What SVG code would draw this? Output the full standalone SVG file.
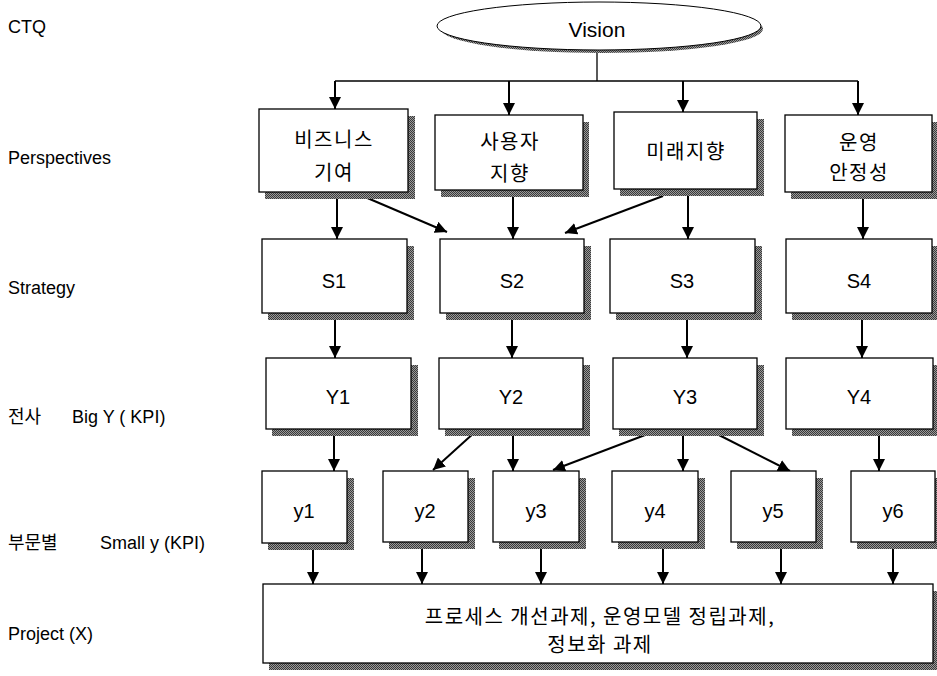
<svg xmlns="http://www.w3.org/2000/svg" width="937" height="676" viewBox="0 0 937 676">
  <defs>
    <pattern id="stipple" width="2" height="2" patternUnits="userSpaceOnUse">
      <rect width="2" height="2" fill="#9a9a9a"/>
      <rect width="1" height="1" fill="#3a3a3a"/>
      <rect x="1" y="1" width="1" height="1" fill="#3a3a3a"/>
    </pattern>
    <marker id="arrow" viewBox="0 0 10 10" refX="10" refY="5" markerWidth="12" markerHeight="12" markerUnits="userSpaceOnUse" orient="auto">
      <path d="M0,0 L10,5 L0,10 z" fill="#000"/>
    </marker>
  </defs>
  <style>
    .box { fill: #fff; stroke: #000; stroke-width: 1.3; }
    .shadow { fill: url(#stipple); }
    .lbl { font-family: "Liberation Sans", Arial, "Noto Sans CJK KR", sans-serif; font-size: 20px; fill: #000; text-anchor: middle; }
    .ko { font-family: "Noto Sans CJK KR", "Liberation Sans", sans-serif; font-size: 20px; letter-spacing: 1.5px; fill: #000; text-anchor: middle; }
    .side { font-family: "Liberation Sans", Arial, "Noto Sans CJK KR", sans-serif; font-size: 18px; fill: #000; }
    .side-ko { font-family: "Noto Sans CJK KR", "Liberation Sans", sans-serif; font-size: 18px; fill: #000; }
    .conn line { stroke: #000; stroke-width: 2; fill: none; }
    .arr { marker-end: url(#arrow); }
  </style>

  <!-- row labels -->
  <g id="row-labels">
    <text class="side" x="8" y="33">CTQ</text>
    <text class="side" x="8" y="164">Perspectives</text>
    <text class="side" x="8" y="294">Strategy</text>
    <text class="side-ko" x="8" y="423">전사</text>
    <text class="side" x="72" y="423">Big Y ( KPI)</text>
    <text class="side-ko" x="8" y="549">부문별</text>
    <text class="side" x="100" y="549">Small y (KPI)</text>
    <text class="side" x="8" y="640">Project (X)</text>
  </g>

  <!-- connectors -->
  <g id="connectors" class="conn">
    <line x1="597" y1="52" x2="597" y2="81" style="stroke-width:1.3"/>
    <line x1="335" y1="81" x2="858" y2="81" style="stroke-width:1.5"/>
    <line class="arr" x1="335" y1="81" x2="335" y2="109"/>
    <line class="arr" x1="509" y1="81" x2="509" y2="115"/>
    <line class="arr" x1="683" y1="81" x2="683" y2="112"/>
    <line class="arr" x1="858" y1="81" x2="858" y2="115"/>

    <line class="arr" x1="337" y1="198" x2="337" y2="239"/>
    <line class="arr" x1="365" y1="197" x2="447" y2="232"/>
    <line class="arr" x1="513" y1="197" x2="513" y2="239"/>
    <line class="arr" x1="663" y1="196" x2="565" y2="233"/>
    <line class="arr" x1="688" y1="196" x2="688" y2="239"/>
    <line class="arr" x1="863" y1="198" x2="863" y2="239"/>

    <line class="arr" x1="335" y1="319" x2="335" y2="358"/>
    <line class="arr" x1="512" y1="319" x2="512" y2="358"/>
    <line class="arr" x1="687" y1="319" x2="687" y2="358"/>
    <line class="arr" x1="862" y1="319" x2="862" y2="358"/>

    <line class="arr" x1="334" y1="435" x2="334" y2="471"/>
    <line class="arr" x1="475" y1="432" x2="433" y2="470"/>
    <line class="arr" x1="513" y1="435" x2="513" y2="471"/>
    <line class="arr" x1="653" y1="432" x2="553" y2="470"/>
    <line class="arr" x1="683" y1="435" x2="683" y2="471"/>
    <line class="arr" x1="713" y1="432" x2="790" y2="471"/>
    <line class="arr" x1="879" y1="435" x2="879" y2="471"/>

    <line class="arr" x1="313" y1="549" x2="313" y2="584"/>
    <line class="arr" x1="422" y1="549" x2="422" y2="584"/>
    <line class="arr" x1="541" y1="549" x2="541" y2="584"/>
    <line class="arr" x1="663" y1="549" x2="663" y2="584"/>
    <line class="arr" x1="781" y1="549" x2="781" y2="584"/>
    <line class="arr" x1="893" y1="549" x2="893" y2="584"/>
  </g>

  <!-- CTQ -->
  <g id="vision">
    <ellipse cx="602" cy="29" rx="161" ry="24" class="shadow"/>
    <ellipse cx="599" cy="26" rx="162" ry="24" fill="#fff" stroke="#000" stroke-width="1"/>
    <text class="lbl" x="597" y="37" style="font-size:21px">Vision</text>
  </g>

  <!-- perspectives -->
  <g id="p-business">
    <rect class="shadow" x="265" y="116" width="150" height="83"/>
    <rect class="box" x="259" y="109" width="149" height="83"/>
    <text class="ko" x="334" y="147">비즈니스</text>
    <text class="ko" x="334" y="180">기여</text>
  </g>
  <g id="p-user">
    <rect class="shadow" x="441" y="122" width="148" height="75"/>
    <rect class="box" x="435" y="115" width="148" height="75"/>
    <text class="ko" x="510" y="149">사용자</text>
    <text class="ko" x="510" y="181">지향</text>
  </g>
  <g id="p-future">
    <rect class="shadow" x="620" y="119" width="144" height="77"/>
    <rect class="box" x="614" y="112" width="143" height="77"/>
    <text class="ko" x="686" y="159">미래지향</text>
  </g>
  <g id="p-ops">
    <rect class="shadow" x="791" y="122" width="148" height="77"/>
    <rect class="box" x="785" y="115" width="147" height="77"/>
    <text class="ko" x="859" y="150">운영</text>
    <text class="ko" x="859" y="180">안정성</text>
  </g>

  <!-- strategy -->
  <g id="s1">
    <rect class="shadow" x="268" y="246" width="146" height="74"/>
    <rect class="box" x="262" y="239" width="145" height="74"/>
    <text class="lbl" x="334" y="288">S1</text>
  </g>
  <g id="s2">
    <rect class="shadow" x="446" y="246" width="145" height="74"/>
    <rect class="box" x="440" y="239" width="144" height="74"/>
    <text class="lbl" x="512" y="288">S2</text>
  </g>
  <g id="s3">
    <rect class="shadow" x="616" y="246" width="146" height="74"/>
    <rect class="box" x="610" y="239" width="145" height="74"/>
    <text class="lbl" x="682" y="288">S3</text>
  </g>
  <g id="s4">
    <rect class="shadow" x="792" y="246" width="146" height="74"/>
    <rect class="box" x="786" y="239" width="146" height="74"/>
    <text class="lbl" x="859" y="288">S4</text>
  </g>

  <!-- big Y -->
  <g id="Y1">
    <rect class="shadow" x="272" y="365" width="146" height="71"/>
    <rect class="box" x="266" y="358" width="145" height="71"/>
    <text class="lbl" x="338" y="404">Y1</text>
  </g>
  <g id="Y2">
    <rect class="shadow" x="445" y="365" width="145" height="71"/>
    <rect class="box" x="439" y="358" width="144" height="71"/>
    <text class="lbl" x="511" y="404">Y2</text>
  </g>
  <g id="Y3">
    <rect class="shadow" x="619" y="365" width="145" height="71"/>
    <rect class="box" x="613" y="358" width="144" height="71"/>
    <text class="lbl" x="685" y="404">Y3</text>
  </g>
  <g id="Y4">
    <rect class="shadow" x="792" y="365" width="147" height="71"/>
    <rect class="box" x="786" y="358" width="147" height="71"/>
    <text class="lbl" x="859" y="404">Y4</text>
  </g>

  <!-- small y -->
  <g id="y1">
    <rect class="shadow" x="268" y="478" width="86" height="72"/>
    <rect class="box" x="262" y="471" width="85" height="72"/>
    <text class="lbl" x="304" y="518">y1</text>
  </g>
  <g id="y2">
    <rect class="shadow" x="389" y="478" width="86" height="71"/>
    <rect class="box" x="383" y="471" width="85" height="71"/>
    <text class="lbl" x="425" y="518">y2</text>
  </g>
  <g id="y3">
    <rect class="shadow" x="499" y="478" width="87" height="71"/>
    <rect class="box" x="493" y="471" width="86" height="71"/>
    <text class="lbl" x="536" y="518">y3</text>
  </g>
  <g id="y4">
    <rect class="shadow" x="618" y="478" width="87" height="71"/>
    <rect class="box" x="612" y="471" width="86" height="71"/>
    <text class="lbl" x="655" y="518">y4</text>
  </g>
  <g id="y5">
    <rect class="shadow" x="737" y="478" width="86" height="71"/>
    <rect class="box" x="731" y="471" width="85" height="71"/>
    <text class="lbl" x="773" y="518">y5</text>
  </g>
  <g id="y6">
    <rect class="shadow" x="857" y="478" width="86" height="71"/>
    <rect class="box" x="851" y="471" width="84" height="71"/>
    <text class="lbl" x="893" y="518">y6</text>
  </g>

  <!-- project -->
  <g id="project">
    <rect class="shadow" x="269" y="591" width="670" height="79"/>
    <rect class="box" x="263" y="584" width="670" height="79"/>
    <text class="ko" x="600" y="624">프로세스 개선과제, 운영모델 정립과제,</text>
    <text class="ko" x="600" y="652">정보화 과제</text>
  </g>
</svg>
